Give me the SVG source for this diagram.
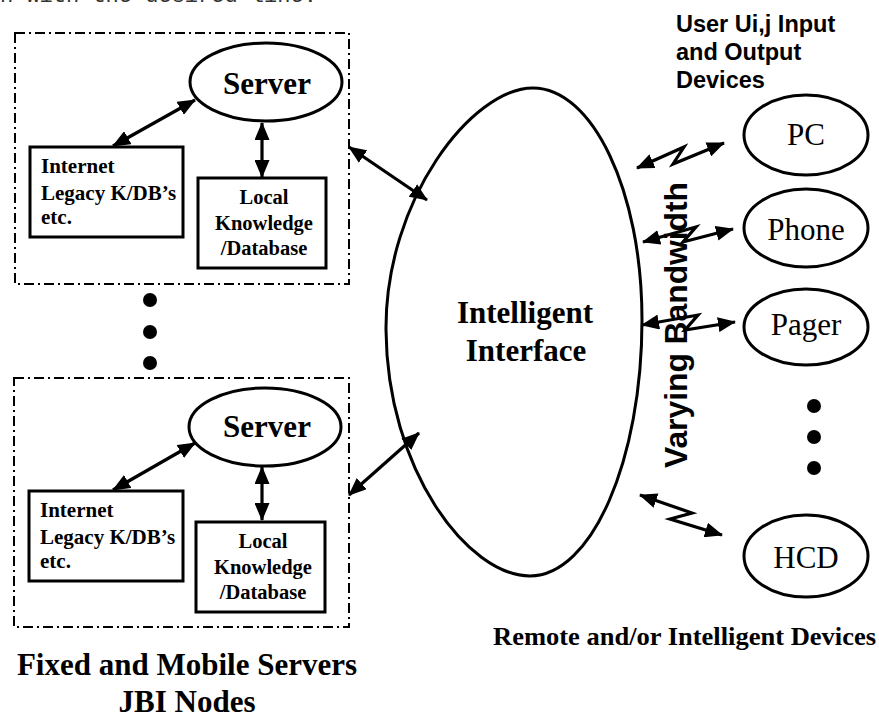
<svg xmlns="http://www.w3.org/2000/svg" width="879" height="719" viewBox="0 0 879 719">
<style>
.bg{fill:#fff}
.dash{fill:none;stroke:#000;stroke-width:2;stroke-dasharray:10 4 2 4}
.shape{fill:#fff;stroke:#000;stroke-width:3}
.conn{fill:none;stroke:#000;stroke-width:3.2}
.sb{font-family:"Liberation Serif","Times New Roman",serif;font-weight:bold;fill:#000}
.sr{font-family:"Liberation Serif","Times New Roman",serif;fill:#000}
.ab{font-family:"Liberation Sans",Arial,sans-serif;font-weight:bold;fill:#000}
.dot{fill:#000}
</style>
<defs>
<marker id="ah" viewBox="0 0 18 15" refX="17" refY="7.5" markerWidth="18" markerHeight="15" markerUnits="userSpaceOnUse" orient="auto-start-reverse">
<path d="M0,0 L18,7.5 L0,15 Z" fill="#000"/>
</marker>
</defs>
<rect class="bg" x="0" y="0" width="879" height="719"/>
<text x="0" y="2" font-family="Liberation Mono, Courier New, monospace" font-size="22" fill="#333">n with the desired line.</text>

<g id="group-top">
<rect class="dash" x="15" y="33" width="334" height="251"/>
</g>
<g id="server-top">
<ellipse class="shape" cx="266" cy="82" rx="76" ry="39"/>
<text class="sb" x="267" y="94" font-size="31" text-anchor="middle">Server</text>
</g>
<g id="internet-top">
<rect class="shape" x="30" y="147" width="153" height="90"/>
<text class="sb" font-size="21"><tspan x="41" y="173">Internet</tspan><tspan x="41" y="200">Legacy K/DB’s</tspan><tspan x="41" y="224">etc.</tspan></text>
</g>
<g id="local-top">
<rect class="shape" x="198" y="178" width="128" height="90"/>
<text class="sb" font-size="20.5" text-anchor="middle"><tspan x="264" y="204">Local</tspan><tspan x="264" y="230">Knowledge</tspan><tspan x="264" y="255">/Database</tspan></text>
</g>

<g id="dots-left">
<circle class="dot" cx="150" cy="300" r="7"/>
<circle class="dot" cx="150" cy="332" r="7"/>
<circle class="dot" cx="150" cy="363" r="7"/>
</g>

<g id="group-bottom">
<rect class="dash" x="14" y="378" width="335" height="249"/>
</g>
<g id="server-bottom">
<ellipse class="shape" cx="265" cy="427" rx="76" ry="39"/>
<text class="sb" x="267" y="437" font-size="31" text-anchor="middle">Server</text>
</g>
<g id="internet-bottom">
<rect class="shape" x="29" y="491" width="154" height="90"/>
<text class="sb" font-size="21"><tspan x="40" y="517">Internet</tspan><tspan x="40" y="544">Legacy K/DB’s</tspan><tspan x="40" y="568">etc.</tspan></text>
</g>
<g id="local-bottom">
<rect class="shape" x="196" y="522" width="129" height="90"/>
<text class="sb" font-size="20.5" text-anchor="middle"><tspan x="263" y="548">Local</tspan><tspan x="263" y="574">Knowledge</tspan><tspan x="263" y="599">/Database</tspan></text>
</g>

<g id="caption-left">
<text class="sb" x="187" y="675" font-size="31" text-anchor="middle">Fixed and Mobile Servers</text>
<text class="sb" x="187" y="712" font-size="31" text-anchor="middle">JBI Nodes</text>
</g>

<g id="interface">
<path class="shape" d="M533,88 C592,88 642,190 642,320 C642,460 592,576 530,576 C468,576 387,470 386,330 C385,200 472,88 533,88 Z"/>
<text class="sb" x="525" y="323" font-size="31" text-anchor="middle">Intelligent</text>
<text class="sb" x="526" y="361" font-size="31" text-anchor="middle">Interface</text>
</g>

<g id="label-users">
<text class="ab" font-size="23.5"><tspan x="676" y="32">User Ui,j Input</tspan><tspan x="676" y="60">and Output</tspan><tspan x="676" y="88">Devices</tspan></text>
</g>

<g id="pc">
<ellipse class="shape" cx="806" cy="135" rx="62" ry="40"/>
<text class="sr" x="806" y="145" font-size="31" text-anchor="middle">PC</text>
</g>
<g id="phone">
<ellipse class="shape" cx="806" cy="228" rx="62" ry="39"/>
<text class="sr" x="806" y="240" font-size="31" text-anchor="middle">Phone</text>
</g>
<g id="pager">
<ellipse class="shape" cx="806" cy="327" rx="62" ry="38"/>
<text class="sr" x="806" y="335" font-size="31" text-anchor="middle">Pager</text>
</g>
<g id="dots-right">
<circle class="dot" cx="814" cy="406" r="7"/>
<circle class="dot" cx="814" cy="437" r="7"/>
<circle class="dot" cx="814" cy="468" r="7"/>
</g>
<g id="hcd">
<ellipse class="shape" cx="806" cy="556" rx="62" ry="41"/>
<text class="sr" x="806" y="568" font-size="31" text-anchor="middle">HCD</text>
</g>

<g id="label-remote">
<text class="sb" x="493" y="645" font-size="26" textLength="383" lengthAdjust="spacingAndGlyphs">Remote and/or Intelligent Devices</text>
</g>

<g id="label-bandwidth">
<text class="ab" transform="translate(687,468) rotate(-90)" font-size="32" textLength="286" lengthAdjust="spacingAndGlyphs">Varying Bandwidth</text>
</g>

<g id="connectors">
<line class="conn" x1="195" y1="100" x2="113" y2="146" marker-start="url(#ah)" marker-end="url(#ah)"/>
<line class="conn" x1="262" y1="123" x2="262" y2="177" marker-start="url(#ah)" marker-end="url(#ah)"/>
<line class="conn" x1="349" y1="147" x2="427" y2="200" marker-start="url(#ah)" marker-end="url(#ah)"/>
<line class="conn" x1="195" y1="443" x2="113" y2="490" marker-start="url(#ah)" marker-end="url(#ah)"/>
<line class="conn" x1="262" y1="467" x2="262" y2="520" marker-start="url(#ah)" marker-end="url(#ah)"/>
<line class="conn" x1="349" y1="495" x2="419" y2="433" marker-start="url(#ah)" marker-end="url(#ah)"/>
<polyline class="conn" points="637,168 684,147 673,164 724,143" marker-start="url(#ah)" marker-end="url(#ah)"/>
<polyline class="conn" points="643,242 696,227 683,242 733,229" marker-start="url(#ah)" marker-end="url(#ah)"/>
<polyline class="conn" points="642,325 698,315 685,330 735,322" marker-start="url(#ah)" marker-end="url(#ah)"/>
<polyline class="conn" points="640,495 692,513 670,519 722,535" marker-start="url(#ah)" marker-end="url(#ah)"/>
</g>
</svg>
